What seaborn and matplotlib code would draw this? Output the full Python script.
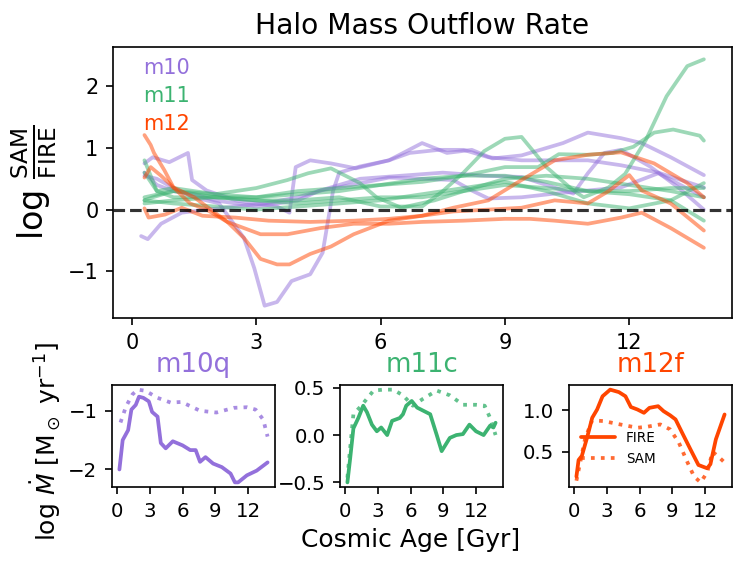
import matplotlib
matplotlib.use("Agg")
import matplotlib.pyplot as plt
import seaborn as sns

sns.set_style("ticks")
plt.rcParams['font.family'] = ['DejaVu Sans']
plt.rcParams.update({'text.color': 'black', 'axes.labelcolor': 'black',
                     'xtick.color': 'black', 'ytick.color': 'black',
                     'axes.edgecolor': 'black'})

c10, c11, c12 = 'mediumpurple', 'mediumseagreen', 'orangered'

# ---- top panel: log SAM/FIRE ratio per halo ----
p1_t = [0.3, 0.5, 0.9, 1.35, 1.45, 1.8, 2.5, 3.0, 3.5, 3.8, 3.95, 4.3, 4.8, 5.4, 6.2, 7.0, 7.6, 8.2, 8.7, 9.4, 10.4, 11.0, 11.8, 12.3, 13.0, 13.8]
p1_v = [0.75, 0.85, 0.77, 0.92, 0.48, 0.31, 0.15, 0.1, 0.05, -0.05, 0.69, 0.8, 0.75, 0.67, 0.8, 1.08, 0.92, 0.97, 0.83, 0.88, 1.08, 1.25, 1.16, 1.08, 0.85, 0.56]
p2_t = [0.3, 0.6, 1.0, 1.5, 2.1, 2.7, 2.95, 3.2, 3.5, 3.85, 4.3, 4.6, 4.85, 5.0, 5.5, 6.2, 6.7, 7.4, 8.0, 8.6, 9.4, 10.2, 11.0, 11.8, 12.7, 13.8]
p2_v = [0.55, 0.5, 0.35, 0.2, 0.1, -0.46, -0.95, -1.56, -1.5, -1.16, -1.05, -0.7, 0.3, 0.6, 0.7, 0.8, 0.92, 0.97, 0.97, 0.85, 0.8, 0.8, 0.8, 0.72, 0.6, 0.36]
p3_t = [0.22, 0.38, 0.7, 1.2, 1.8, 2.5, 3.2, 4.0, 4.55, 5.3, 6.2, 7.0, 7.75, 8.2, 8.6, 9.4, 10.2, 11.0, 11.8, 12.7, 13.8]
p3_v = [-0.43, -0.48, -0.23, -0.05, 0.0, 0.05, 0.1, 0.2, 0.31, 0.4, 0.52, 0.5, 0.48, 0.31, 0.18, 0.2, 0.26, 0.31, 0.36, 0.59, 0.2]
p4_t = [0.3, 0.6, 1.0, 1.5, 2.0, 2.5, 3.0, 3.5, 4.0, 4.5, 5.5, 6.5, 7.5, 8.5, 9.4, 10.0, 10.65, 11.0, 11.4, 11.8, 12.5, 13.2, 13.8]
p4_v = [0.6, 0.4, 0.3, 0.25, 0.15, 0.1, 0.05, 0.1, 0.15, 0.3, 0.5, 0.55, 0.6, 0.55, 0.53, 0.4, 0.26, 0.59, 0.92, 0.97, 0.7, 0.35, 0.0]

g1_t = [0.3, 0.6, 1, 2, 3, 4, 5, 6, 7, 7.5, 8, 8.5, 9, 9.4, 10.0, 10.65, 10.9, 11.5, 11.9, 12.4, 12.9, 13.4, 13.8]
g1_v = [0.6, 0.3, 0.2, 0.2, 0.15, 0.15, 0.2, 0.05, 0.05, 0.3, 0.6, 0.95, 1.15, 1.18, 0.69, 0.31, 0.2, 0.36, 0.58, 1.13, 1.84, 2.33, 2.44]
g2_t = [0.3, 0.5, 1, 2, 3, 4, 5, 6, 7, 8, 9, 9.8, 10.3, 11, 11.6, 12.1, 12.6, 13.06, 13.7, 13.8]
g2_v = [0.15, 0.2, 0.3, 0.2, 0.2, 0.25, 0.3, 0.4, 0.5, 0.55, 0.69, 0.69, 0.9, 0.89, 0.92, 1.02, 1.25, 1.3, 1.2, 1.12]
g3_t = [0.3, 0.6, 1, 1.5, 2, 2.5, 3, 3.75, 4.25, 4.8, 5.5, 5.9, 6.5, 7.3, 8, 9, 10, 11, 12, 13, 13.8]
g3_v = [0.8, 0.3, 0.35, 0.3, 0.25, 0.3, 0.35, 0.48, 0.59, 0.67, 0.43, 0.2, 0.03, 0.15, 0.3, 0.5, 0.55, 0.5, 0.4, 0.3, 0.2]
g_t = [0.3, 1, 2, 3, 4, 5, 6, 7, 8, 9, 10, 11, 12, 13, 13.8]
g4_v = [0.2, 0.3, 0.25, 0.2, 0.3, 0.35, 0.4, 0.45, 0.55, 0.55, 0.45, 0.3, 0.25, 0.15, -0.18]
g5_v = [0.1, 0.15, 0.2, 0.15, 0.1, 0.15, 0.2, 0.2, 0.3, 0.4, 0.35, 0.3, 0.3, 0.35, 0.35]
g6_v = [0.15, 0.1, 0.05, 0.0, 0.05, 0.1, 0.15, 0.25, 0.35, 0.45, 0.3, 0.1, 0.02, 0.15, 0.43]

o1_t = [0.3, 0.45, 0.53, 0.78, 1.0, 1.5, 1.9, 2.3, 2.7, 3.1, 3.5, 3.8, 4.3, 4.8, 5.35, 6.2, 7.0, 7.75, 8.6, 9.4, 10.2, 11.0, 11.8, 12.6, 13.4, 13.8]
o1_v = [1.21, 1.05, 0.92, 0.64, 0.36, 0.2, 0.0, -0.2, -0.46, -0.8, -0.89, -0.89, -0.72, -0.6, -0.4, -0.18, -0.1, 0.03, 0.15, 0.48, 0.8, 0.89, 0.93, 0.75, 0.43, 0.2]
o2_t = [0.3, 0.45, 0.7, 1.0, 1.4, 1.8, 2.3, 3.1, 3.75, 4.55, 5.35, 6.2, 7.0, 8.0, 9.0, 9.6, 10.2, 11.0, 11.8, 12.3, 13.0, 13.8]
o2_v = [0.52, 0.69, 0.55, 0.36, 0.1, 0.0, -0.2, -0.4, -0.4, -0.3, -0.23, -0.23, -0.2, -0.18, -0.15, -0.15, -0.18, -0.23, -0.13, -0.05, -0.3, -0.62]
o3_t = [0.3, 0.4, 0.8, 1.2, 1.7, 2.5, 3.3, 4.3, 5.35, 6.2, 7.0, 7.75, 8.6, 9.4, 10.2, 11.0, 11.5, 12.0, 12.3, 13.0, 13.8]
o3_v = [0.02, -0.13, -0.08, 0.03, -0.1, -0.13, -0.18, -0.2, -0.18, -0.15, -0.1, -0.03, 0.0, 0.03, 0.15, 0.1, 0.3, 0.56, 0.31, 0.1, -0.34]

# ---- bottom panels: outflow rates for single haloes ----
m10q_fire_t = [0.2, 0.5, 1.0, 1.3, 1.7, 2.0, 2.4, 2.9, 3.2, 3.7, 4.0, 4.45, 5.1, 6.0, 6.7, 7.2, 7.6, 8.1, 8.8, 9.6, 10.4, 10.8, 11.1, 11.9, 12.8, 13.8]
m10q_fire_v = [-2.0, -1.5, -1.33, -0.98, -0.9, -0.76, -0.78, -0.84, -1.02, -1.1, -1.55, -1.64, -1.52, -1.59, -1.67, -1.67, -1.87, -1.79, -1.9, -1.96, -2.07, -2.22, -2.22, -2.1, -2.02, -1.88]
m10q_sam_t = [0.3, 0.8, 1.4, 1.9, 2.6, 3.7, 4.9, 5.9, 7.6, 9.1, 10.7, 11.9, 12.7, 13.4, 13.8]
m10q_sam_v = [-1.2, -0.93, -0.72, -0.64, -0.66, -0.78, -0.86, -0.85, -1.0, -1.03, -0.95, -0.94, -0.98, -1.15, -1.44]

m11c_fire_t = [0.2, 0.45, 0.75, 1.2, 1.65, 2.0, 2.45, 2.9, 3.3, 3.85, 4.3, 5.0, 5.3, 5.6, 6.1, 6.6, 7.8, 8.4, 8.85, 9.6, 10.2, 10.8, 11.4, 12.0, 12.7, 13.3, 13.6, 13.8]
m11c_fire_v = [-0.5, -0.25, 0.07, 0.18, 0.31, 0.24, 0.11, 0.04, 0.08, 0.0, 0.15, 0.18, 0.22, 0.31, 0.36, 0.29, 0.22, 0.0, -0.17, -0.03, 0.0, 0.01, 0.11, 0.04, 0.0, 0.1, 0.08, 0.13]
m11c_sam_t = [0.2, 0.4, 0.75, 1.4, 2.6, 3.5, 4.4, 5.3, 6.2, 7.1, 8.4, 9.6, 10.8, 12.0, 12.8, 13.3, 13.8]
m11c_sam_v = [-0.45, -0.2, 0.22, 0.3, 0.47, 0.48, 0.48, 0.42, 0.31, 0.38, 0.47, 0.42, 0.32, 0.32, 0.31, 0.18, 0.0]

m12f_fire_t = [0.2, 0.4, 0.7, 1.2, 1.65, 2.1, 2.6, 3.3, 4.1, 4.7, 5.2, 5.8, 6.4, 6.9, 7.7, 8.2, 8.8, 9.3, 9.9, 10.7, 11.4, 12.2, 12.5, 13.0, 13.4, 13.8]
m12f_fire_v = [0.2, 0.4, 0.45, 0.68, 0.91, 1.01, 1.17, 1.25, 1.22, 1.17, 1.04, 1.01, 0.97, 1.03, 1.05, 0.99, 0.94, 0.89, 0.73, 0.52, 0.34, 0.3, 0.35, 0.65, 0.8, 0.95]
m12f_sam_t = [0.2, 1.0, 1.65, 2.7, 4.2, 5.8, 6.6, 7.9, 8.8, 9.6, 10.4, 11.0, 11.6, 12.2, 12.7, 13.4, 13.8]
m12f_sam_v = [0.15, 0.66, 0.88, 0.87, 0.83, 0.79, 0.8, 0.83, 0.77, 0.61, 0.37, 0.2, 0.13, 0.25, 0.5, 0.42, 0.37]

group_names = ['m10', 'm11', 'm12']
group_colors = [c10, c11, c12]
top_lines = [
    (p1_t, p1_v, c10), (p2_t, p2_v, c10), (p3_t, p3_v, c10), (p4_t, p4_v, c10),
    (g1_t, g1_v, c11), (g2_t, g2_v, c11), (g3_t, g3_v, c11),
    (g_t, g4_v, c11), (g_t, g5_v, c11), (g_t, g6_v, c11),
    (o1_t, o1_v, c12), (o2_t, o2_v, c12), (o3_t, o3_v, c12),
]

W, H = 748, 569
fig = plt.figure(figsize=(W / 150, H / 150), dpi=150)

ax = fig.add_axes([113 / W, 1 - 318 / H, 619 / W, 271 / H])
for t, v, c in top_lines:
    sns.lineplot(x=t, y=v, color=c, alpha=0.5, lw=1.8, ax=ax, estimator=None, sort=False)
ax.axhline(0, color='k', ls='--', lw=1.5, alpha=0.8)
ax.set_xticks([0, 3, 6, 9, 12])
ax.set_yticks([-1, 0, 1, 2])
ax.tick_params(labelsize=10)
ax.set_title('Halo Mass Outflow Rate', fontsize=13.5)
ax.set_ylabel(r'$\log\,\frac{\rm SAM}{\rm FIRE}$', fontsize=16)
for i, (name, c) in enumerate(zip(group_names, group_colors)):
    ax.text(0.048, 0.922 - i * 0.103, name, color=c, fontsize=10, va='center',
            transform=ax.transAxes)

panels = [
    ('m10q', c10, m10q_fire_t, m10q_fire_v, m10q_sam_t, m10q_sam_v, 112, [-1, -2]),
    ('m11c', c11, m11c_fire_t, m11c_fire_v, m11c_sam_t, m11c_sam_v, 340, [-0.5, 0.0, 0.5]),
    ('m12f', c12, m12f_fire_t, m12f_fire_v, m12f_sam_t, m12f_sam_v, 569, [0.5, 1.0]),
]
for name, c, ft, fv, st, sv, left, yt in panels:
    bx = fig.add_axes([left / W, 1 - 487 / H, 163 / W, 102 / H])
    sns.lineplot(x=ft, y=fv, color=c, lw=1.8, ax=bx, estimator=None, sort=False, label='FIRE')
    sns.lineplot(x=st, y=sv, color=c, lw=1.8, ls=':', alpha=0.8, ax=bx, estimator=None, sort=False, label='SAM')
    bx.set_title(name, color=c, fontsize=12.5)
    bx.set_xticks([0, 3, 6, 9, 12])
    bx.set_yticks(yt)
    bx.tick_params(labelsize=9.5)
    if name == 'm12f':
        bx.legend(fontsize=6.5, frameon=False, loc='center left', bbox_to_anchor=(0.0, 0.38),
                  handlelength=2.5)
    else:
        bx.get_legend().remove()

fig.text(46 / W, 1 - 442 / H, r'log $\dot{M}$ [M$_\odot$ yr$^{-1}$]', rotation=90,
         ha='center', va='center', fontsize=12)
fig.text(411 / W, 1 - 540 / H, 'Cosmic Age [Gyr]', ha='center', va='center', fontsize=12)

fig.savefig('out.png', dpi=150)
